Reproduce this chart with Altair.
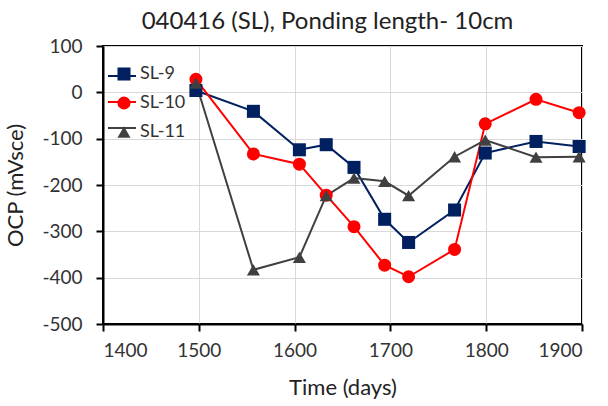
import altair as alt
import pandas as pd

days = [1497, 1557, 1605, 1633, 1662, 1694, 1719, 1767, 1799, 1852, 1897]
sl9 = [4, -41, -124, -113, -162, -274, -324, -254, -131, -106, -117]
sl10 = [28, -133, -155, -222, -290, -373, -398, -339, -68, -15, -44]
sl11 = [20, -383, -356, -223, -185, -192, -223, -139, -103, -140, -139]

series = ["SL-9", "SL-10", "SL-11"]
colors = ["#002060", "#FF0000", "#404040"]
shapes = ["square", "circle", "triangle-up"]

# line-legend keys (kept distinct so the line legend is not merged with the marker legend)
line_keys = [s + " line" for s in series]

rows = []
for name, lk, vals in zip(series, line_keys, [sl9, sl10, sl11]):
    for i, (d, v) in enumerate(zip(days, vals)):
        rows.append({"Time": d, "OCP": v, "Series": name, "SeriesL": lk, "order": i})
df = pd.DataFrame(rows)

FONT = "Lato"

x = alt.X("Time:Q", scale=alt.Scale(domain=[1400, 1900], nice=False),
          axis=alt.Axis(values=[1400, 1500, 1600, 1700, 1800, 1900], title="Time (days)",
                        labelExpr="datum.value + ''"))
y = alt.Y("OCP:Q", scale=alt.Scale(domain=[-500, 100], nice=False),
          axis=alt.Axis(values=[-500, -400, -300, -200, -100, 0, 100], title="OCP (mVsce)",
                        labelExpr="datum.value + ''"))

lines = alt.Chart(df).mark_line(strokeWidth=2).encode(
    x=x, y=y,
    stroke=alt.Stroke("SeriesL:N", scale=alt.Scale(domain=line_keys, range=colors),
                      legend=alt.Legend(orient="none", legendX=4, legendY=15, title=None,
                                        symbolType="stroke", symbolSize=784,
                                        symbolStrokeWidth=2, labelExpr="''",
                                        labelFontSize=18, rowPadding=2, padding=0)),
    detail="Series:N",
    order="order:Q",
)

leg = alt.Legend(orient="none", legendX=12, legendY=19, title=None,
                 symbolSize=170, symbolStrokeWidth=0,
                 labelFontSize=18, labelFont=FONT, labelColor="#333333",
                 labelOffset=7, rowPadding=11, padding=0)

points = alt.Chart(df).mark_point(filled=True, size=170, opacity=1).encode(
    x=x, y=y,
    fill=alt.Fill("Series:N", scale=alt.Scale(domain=series, range=colors), legend=leg),
    shape=alt.Shape("Series:N", scale=alt.Scale(domain=series, range=shapes), legend=leg),
)

chart = alt.layer(lines, points).properties(
    width=479, height=278,
    padding={"left": 103, "top": 46, "right": 26, "bottom": 82},
    autosize=alt.AutoSizeParams(type="none"),
    title=alt.TitleParams("040416 (SL), Ponding length- 10cm", fontSize=24, font=FONT,
                          fontWeight="normal", color="#222222", anchor="middle",
                          dx=-15, offset=3),
).configure_view(stroke="black", strokeWidth=2).configure_axis(
    labelFont=FONT, titleFont=FONT, labelFontSize=19, titleFontSize=22,
    labelColor="#333333", titleColor="#222222", titleFontWeight="normal",
    gridColor="#d9d9d9", gridWidth=1, domainColor="black", domainWidth=2,
    tickColor="black", tickWidth=2, tickSize=7,
).configure_axisX(labelPadding=10, titlePadding=17).configure_axisY(labelPadding=14, titlePadding=14)

chart.save("out.html", embed_options={"renderer": "svg", "actions": False})
